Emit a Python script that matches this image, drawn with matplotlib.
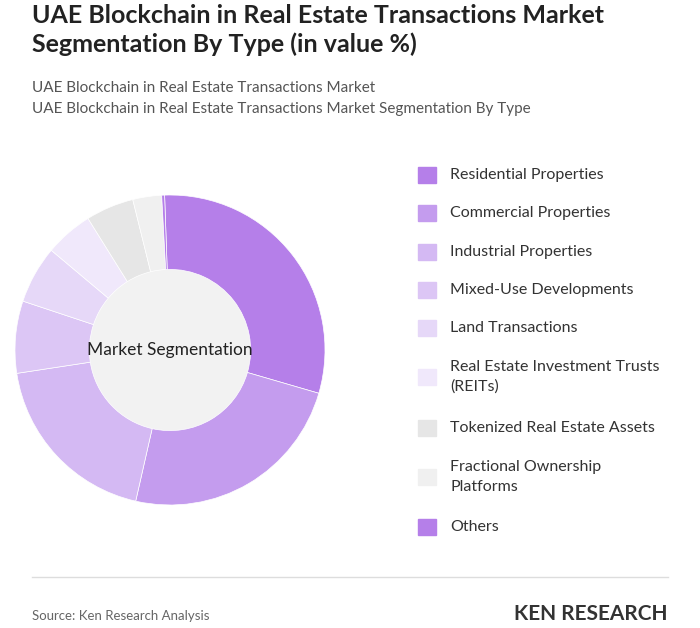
import matplotlib.pyplot as plt
from matplotlib.patches import Rectangle

plt.rcParams['font.family'] = ['Lato', 'DejaVu Sans']

categories = ["Residential Properties", "Commercial Properties", "Industrial Properties",
              "Mixed-Use Developments", "Land Transactions",
              "Real Estate Investment Trusts\n(REITs)", "Tokenized Real Estate Assets",
              "Fractional Ownership\nPlatforms", "Others"]
values = [30, 24, 19, 7.5, 6, 5, 5, 3, 0.3]
colors = ["#b57fe9", "#c49cee", "#d4b9f3", "#dcc6f5", "#e6d8f8", "#f0e8fb",
          "#e6e6e6", "#f0f0f0", "#b57fe9"]

fig = plt.figure(figsize=(7, 6.28), dpi=100)
W, H = 700, 628

def fx(x): return x / W
def fy(y): return 1 - y / H

fig.text(fx(32), fy(30), "UAE Blockchain in Real Estate Transactions Market\nSegmentation By Type (in value %)",
         fontsize=18, fontweight='bold', color="#222222", va='center', linespacing=1.25)
fig.text(fx(32), fy(88), "UAE Blockchain in Real Estate Transactions Market", fontsize=11, color="#555555", va='center')
fig.text(fx(32), fy(109), "UAE Blockchain in Real Estate Transactions Market Segmentation By Type", fontsize=11, color="#555555", va='center')

ax = fig.add_axes([fx(15), fy(505), 310 / W, 310 / H])
wedges, _ = ax.pie(values, colors=colors, startangle=92, counterclock=False,
                   wedgeprops=dict(width=0.48, edgecolor='white', linewidth=0.5))
ax.add_patch(plt.Circle((0, 0), 0.52, color="#f2f2f2", zorder=0))
ax.text(0, 0, "Market Segmentation", ha='center', va='center', fontsize=12.5, color="#222222")
ax.set_xlim(-1, 1)
ax.set_ylim(-1, 1)
ax.set_aspect('equal')

ys = [175, 213, 252, 290, 328, 377, 428, 477, 527]
for lab, c, y in zip(categories, colors, ys):
    fig.patches.append(Rectangle((fx(418), fy(y + 8)), 18 / W, 16 / H, color=c, transform=fig.transFigure))
    fig.text(fx(450), fy(y), lab, fontsize=11.5, color="#333333", va='center', linespacing=1.5)

fig.add_artist(plt.Line2D([fx(32), fx(668)], [fy(577), fy(577)], color="#dddddd", lw=1))
fig.text(fx(32), fy(616), "Source: Ken Research Analysis", fontsize=9.5, color="#666666", va='center')
fig.text(fx(668), fy(614), "KEN RESEARCH", fontsize=15, fontweight='bold', color="#333333", va='center', ha='right')

fig.savefig("out.png", dpi=100)
